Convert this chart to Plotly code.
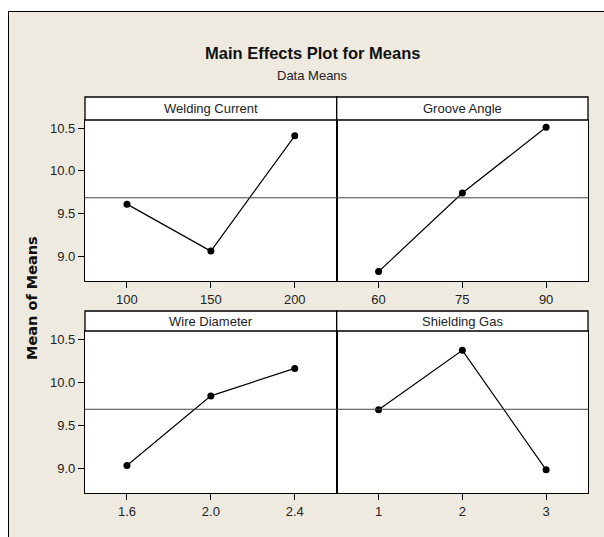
import plotly.graph_objects as go

# ---- data ----
factors = ["Welding Current", "Groove Angle", "Wire Diameter", "Shielding Gas"]
welding_current_levels = ["100", "150", "200"]
welding_current_means = [9.61, 9.06, 10.41]
groove_angle_levels = ["60", "75", "90"]
groove_angle_means = [8.82, 9.74, 10.51]
wire_diameter_levels = ["1.6", "2.0", "2.4"]
wire_diameter_means = [9.03, 9.84, 10.16]
shielding_gas_levels = ["1", "2", "3"]
shielding_gas_means = [9.68, 10.37, 8.98]
y_ticks = [9.0, 9.5, 10.0, 10.5]

levels_all = [welding_current_levels, groove_angle_levels, wire_diameter_levels, shielding_gas_levels]
means_all = [welding_current_means, groove_angle_means, wire_diameter_means, shielding_gas_means]
grand_mean = sum(sum(m) for m in means_all) / sum(len(m) for m in means_all)

W, H = 604, 537
def px(x):
    return x / W
def py(y):
    return 1 - y / H

BG = "#EEEAE0"
FONT = "Liberation Sans, Arial, sans-serif"

col_x = [(85, 336.7), (336.7, 588)]
row_y = [(120, 281), (331, 493)]      # plot areas (top px, bottom px)
strip_y = [(97, 120), (311, 331)]
yrange = [8.71, 10.595]

fig = go.Figure()
shapes = []
annotations = []

# white page margin outside the frame (left and top)
shapes.append(dict(type="rect", xref="paper", yref="paper",
                   x0=-0.05, x1=1.05, y0=py(11.5), y1=1.05,
                   fillcolor="white", line=dict(width=0), layer="below"))
shapes.append(dict(type="rect", xref="paper", yref="paper",
                   x0=-0.05, x1=px(8.5), y0=-0.05, y1=1.05,
                   fillcolor="white", line=dict(width=0), layer="below"))
# outer frame: left and top edges only (right/bottom lie outside the picture)
shapes.append(dict(type="line", xref="paper", yref="paper",
                   x0=px(8.5), x1=px(8.5), y0=-0.05, y1=py(11.5),
                   line=dict(color="black", width=1), layer="below"))
shapes.append(dict(type="line", xref="paper", yref="paper",
                   x0=px(8.5), x1=1.05, y0=py(11.5), y1=py(11.5),
                   line=dict(color="black", width=1), layer="below"))

for i in range(4):
    r, c = divmod(i, 2)
    sfx = "" if i == 0 else str(i + 1)
    xa, ya = "x" + sfx, "y" + sfx
    n = len(levels_all[i])
    fig.add_trace(go.Scatter(
        x=list(range(n)), y=means_all[i], xaxis=xa, yaxis=ya,
        mode="lines+markers",
        line=dict(color="black", width=1.2),
        marker=dict(color="black", size=7),
        showlegend=False, hoverinfo="x+y",
    ))
    x0, x1 = col_x[c]
    t, b = row_y[r]
    fig.layout["xaxis" + sfx] = dict(
        domain=[px(x0), px(x1)], anchor=ya, range=[-0.5, n - 0.5],
        tickvals=list(range(n)), ticktext=levels_all[i],
        ticks="outside", ticklen=6, tickcolor="black", tickwidth=1,
        showline=True, mirror=True, linecolor="black", linewidth=1.3,
        showgrid=False, zeroline=False,
        tickfont=dict(family=FONT, size=13, color="#222"),
    )
    fig.layout["yaxis" + sfx] = dict(
        domain=[py(b), py(t)], anchor=xa, range=yrange,
        tickvals=y_ticks, tickformat=".1f",
        ticks="outside" if c == 0 else "", ticklen=6, tickcolor="black", tickwidth=1,
        showticklabels=(c == 0),
        showline=True, mirror=True, linecolor="black", linewidth=1.3,
        showgrid=False, zeroline=False,
        tickfont=dict(family=FONT, size=13, color="#222"),
    )
    # reference line at grand mean
    shapes.append(dict(type="line", xref=xa + " domain", yref=ya,
                       x0=0, x1=1, y0=grand_mean, y1=grand_mean,
                       line=dict(color="#444", width=1)))
    # strip
    st, sb = strip_y[r]
    shapes.append(dict(type="rect", xref="paper", yref="paper",
                       x0=px(x0), x1=px(x1), y0=py(sb), y1=py(st),
                       fillcolor="white", line=dict(color="black", width=1.3)))
    annotations.append(dict(text=factors[i], xref="paper", yref="paper",
                            x=px((x0 + x1) / 2), y=py((st + sb) / 2),
                            xanchor="center", yanchor="middle", showarrow=False,
                            font=dict(family=FONT, size=13, color="#222")))

annotations.append(dict(text="<b>Main Effects Plot for Means</b>", xref="paper", yref="paper",
                        x=px(312), y=py(53), xanchor="center", yanchor="middle",
                        showarrow=False, font=dict(family=FONT, size=16.5, color="#111")))
annotations.append(dict(text="Data Means", xref="paper", yref="paper",
                        x=px(312), y=py(75), xanchor="center", yanchor="middle",
                        showarrow=False, font=dict(family=FONT, size=13, color="#222")))
annotations.append(dict(text="<b>Mean of Means</b>", xref="paper", yref="paper",
                        x=px(32), y=py(298), xanchor="center", yanchor="middle",
                        textangle=-90, showarrow=False,
                        font=dict(family="DejaVu Sans, sans-serif", size=14.5, color="#111")))

fig.update_layout(
    width=W, height=H, margin=dict(l=0, r=0, t=0, b=0),
    paper_bgcolor=BG, plot_bgcolor="white",
    shapes=shapes, annotations=annotations,
    showlegend=False,
)

fig.write_html(
    "out.html",
    config={"displayModeBar": False},
    post_script="document.body.style.margin='0';document.body.style.overflow='hidden';",
)
